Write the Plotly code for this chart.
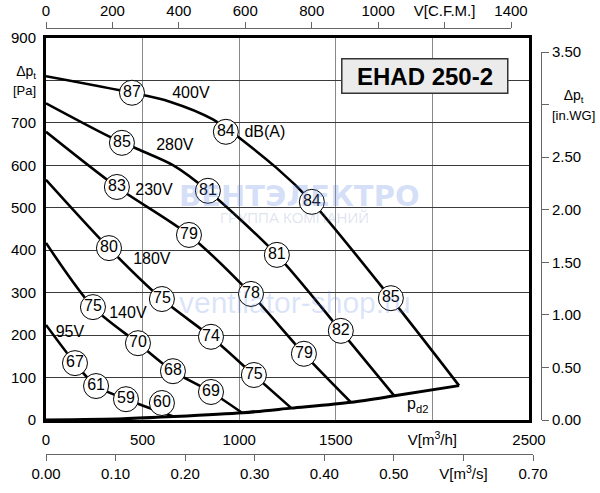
import plotly.graph_objects as go

# ---------------- data ----------------
v400_x = [0, 445, 641, 864, 1193, 1376, 1785, 2138]
v400_y = [810, 771, 750, 708, 594, 514, 287, 81]

v280_x = [0, 331, 486, 659, 838, 1195, 1526, 1803]
v280_y = [746, 667, 636, 600, 540, 389, 210, 57]

v230_x = [0, 367, 740, 1061, 1335, 1580]
v230_y = [679, 549, 436, 297, 156, 41]

v180_x = [0, 326, 600, 854, 1076, 1270]
v180_y = [566, 405, 285, 196, 106, 28]

v140_x = [0, 243, 476, 657, 854, 1018]
v140_y = [417, 266, 181, 115, 66, 16]

v95_x = [0, 150, 259, 414, 660]
v95_y = [224, 134, 80, 49, 8]

pd2_x = [0, 400, 660, 1018, 1270, 1580, 1803, 2138]
pd2_y = [0, 3, 8, 17, 28, 42, 57, 81]

# sound level markers dB(A)
db_x = [445, 931, 1376, 1785,
        393, 838, 1195, 1526,
        367, 740, 1061, 1335,
        326, 600, 854, 1076,
        243, 476, 657, 854,
        150, 259, 414, 600]
db_y = [771, 679, 514, 287,
        653, 540, 389, 210,
        549, 436, 297, 156,
        405, 285, 196, 106,
        266, 181, 115, 66,
        134, 80, 49, 40]
db_txt = ["87", "84", "84", "85",
          "85", "81", "81", "82",
          "83", "79", "78", "79",
          "80", "75", "74", "75",
          "75", "70", "68", "69",
          "67", "61", "59", "60"]

# curve labels
lab_x = [750, 1133, 667, 559, 548, 424, 124, 1924]
lab_y = [768, 676, 646, 540, 377, 250, 205, 35]
lab_txt = ["400V", "dB(A)", "280V", "230V", "180V", "140V", "95V", "p<sub>d2</sub>"]

# axis ticks
m3h_vals = [0, 500, 1000, 1500, 2000, 2500]
m3h_text = ["0", "500", "1000", "1500", "V[m<sup>3</sup>/h]", "2500"]
pa_vals = [0, 100, 200, 300, 400, 500, 600, 700, 800, 900]
pa_text = ["0", "100", "200", "300", "400", "500", "600", "700",
           "<span style='font-size:14px'>Δp<sub>t</sub></span><br><span style='font-size:13px'>[Pa]</span>", "900"]
cfm_vals = [0, 200, 400, 600, 800, 1000, 1200, 1400]
cfm_text = ["0", "200", "400", "600", "800", "1000", "V[C.F.M.]", "1400"]
m3s_vals = [0, 0.1, 0.2, 0.3, 0.4, 0.5, 0.6, 0.7]
m3s_text = ["0.00", "0.10", "0.20", "0.30", "0.40", "0.50", "V[m<sup>3</sup>/s]", "0.70"]
inwg_vals = [0, 0.5, 1.0, 1.5, 2.0, 2.5, 3.0, 3.5]
inwg_text = ["0.00", "0.50", "1.00", "1.50", "2.00", "2.50",
             "<span style='font-size:14px'>\u00a0\u00a0\u00a0Δp<sub>t</sub></span><br><span style='font-size:13px'>[in.WG]</span>", "3.50"]

FONT = "Liberation Sans, Arial, sans-serif"

fig = go.Figure()

for xs, ys in [(v400_x, v400_y), (v280_x, v280_y), (v230_x, v230_y),
               (v180_x, v180_y), (v140_x, v140_y), (v95_x, v95_y)]:
    fig.add_trace(go.Scatter(x=xs, y=ys, mode="lines",
                             line=dict(color="black", width=2.6, shape="spline", smoothing=0.8),
                             hoverinfo="skip", showlegend=False))

fig.add_trace(go.Scatter(x=pd2_x, y=pd2_y, mode="lines",
                         line=dict(color="black", width=3, shape="spline", smoothing=0.8),
                         hoverinfo="skip", showlegend=False))

fig.add_trace(go.Scatter(x=db_x, y=db_y, mode="markers+text", text=db_txt,
                         textposition="middle center",
                         textfont=dict(family=FONT, size=16, color="black"),
                         marker=dict(size=25, color="white", line=dict(color="black", width=1)),
                         hoverinfo="skip", showlegend=False))

fig.add_trace(go.Scatter(x=lab_x, y=lab_y, mode="text", text=lab_txt,
                         textposition="middle center",
                         textfont=dict(family=FONT, size=16, color="black"),
                         hoverinfo="skip", showlegend=False))

# dummy traces so the secondary axes are drawn
fig.add_trace(go.Scatter(x=[0], y=[0], xaxis="x2", yaxis="y2", mode="markers",
                         marker=dict(opacity=0), hoverinfo="skip", showlegend=False))
fig.add_trace(go.Scatter(x=[0], y=[0], xaxis="x3", yaxis="y2", mode="markers",
                         marker=dict(opacity=0), hoverinfo="skip", showlegend=False))

W, H = 600, 493
ml, mr, mt, mb = 46, 59, 28, 39
pw, ph = W - ml - mr, H - mt - mb
xdom = [0, (529 - 46) / pw]
ydom = [(454 - 420) / ph, (454 - 38) / ph]

tickfont = dict(family=FONT, size=15, color="black")

fig.update_layout(
    width=W, height=H,
    margin=dict(l=ml, r=mr, t=mt, b=mb, pad=0, autoexpand=False),
    paper_bgcolor="white", plot_bgcolor="rgba(0,0,0,0)",
    font=dict(family=FONT, color="black"),
    xaxis=dict(domain=xdom, range=[0, 2500], tickmode="array",
               tickvals=m3h_vals, ticktext=m3h_text, tickfont=tickfont,
               showgrid=True, gridcolor="#8a8a8a", gridwidth=1,
               showline=True, linewidth=3, linecolor="black", mirror=True,
               ticks="", zeroline=False, fixedrange=True, ticklabelstandoff=4,
               automargin=False),
    yaxis=dict(domain=ydom, range=[0, 900], tickmode="array",
               tickvals=pa_vals, ticktext=pa_text, tickfont=tickfont,
               showgrid=True, gridcolor="#3a3a3a", gridwidth=1,
               showline=True, linewidth=3, linecolor="black", mirror=True,
               ticks="", zeroline=False, fixedrange=True, ticklabelstandoff=4,
               automargin=False),
    xaxis2=dict(domain=[0, (511 - 46) / pw], range=[0, 1400], anchor="free",
                position=1, side="top", tickmode="array",
                tickvals=cfm_vals, ticktext=cfm_text, tickfont=tickfont,
                showgrid=False, zeroline=False, showline=True, linewidth=1,
                linecolor="#666", ticks="outside", ticklen=6, tickcolor="#666",
                fixedrange=True, automargin=False),
    xaxis3=dict(domain=[0, (533 - 46) / pw], range=[0, 0.70], anchor="free",
                position=0, side="bottom", tickmode="array",
                tickvals=m3s_vals, ticktext=m3s_text, tickfont=tickfont,
                showgrid=False, zeroline=False, showline=True, linewidth=1,
                linecolor="#666", ticks="outside", ticklen=6, tickcolor="#666",
                fixedrange=True, automargin=False),
    yaxis2=dict(domain=[ydom[0], (454 - 52) / ph], range=[0, 3.5], anchor="free",
                position=1, side="right", tickmode="array",
                tickvals=inwg_vals, ticktext=inwg_text, tickfont=tickfont,
                showgrid=False, zeroline=False, showline=True, linewidth=1,
                linecolor="#666", ticks="outside", ticklen=7, tickcolor="#666",
                fixedrange=True, automargin=False),
    showlegend=False,
)

# model title box
fig.add_shape(type="rect", xref="x", yref="y", x0=1531, x1=2390, y0=770, y1=851,
              fillcolor="#ebebeb", line=dict(color="#333", width=1.5), layer="above")
fig.add_annotation(x=1960, y=810, xref="x", yref="y", text="<b>EHAD 250-2</b>",
                   showarrow=False, font=dict(family=FONT, size=24, color="black"))

# faint watermark
fig.add_annotation(x=1314, y=528, xref="x", yref="y", text="<b>ВЕНТЭЛЕКТРО</b>",
                   showarrow=False, font=dict(family="DejaVu Sans", size=29,
                                               color="rgba(90,130,230,0.25)"))
fig.add_annotation(x=1288, y=476, xref="x", yref="y", text="ГРУППА КОМПАНИЙ",
                   showarrow=False, font=dict(family=FONT, size=15,
                                               color="rgba(110,130,190,0.22)"))
fig.add_annotation(x=1288, y=276, xref="x", yref="y", text="ventilator-shop.ru",
                   showarrow=False, font=dict(family=FONT, size=30,
                                               color="rgba(90,130,230,0.22)"))

fig.write_html("out.html")
